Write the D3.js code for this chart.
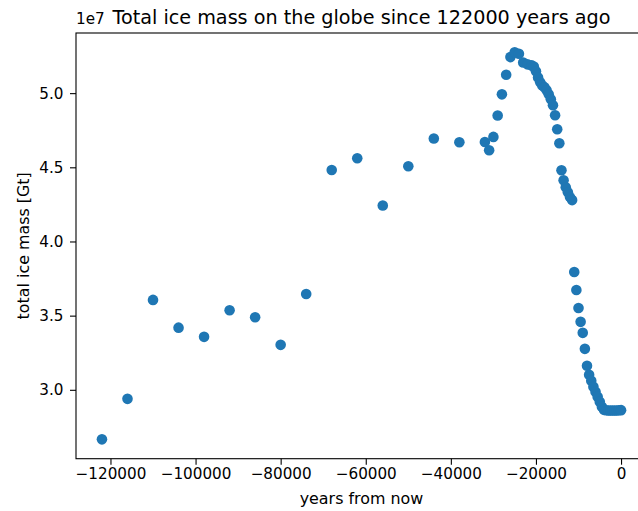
<!DOCTYPE html>
<html>
<head>
<meta charset="utf-8">
<script src="https://cdn.jsdelivr.net/npm/d3@7"></script>
<style>
  body { margin: 0; background: #fff; }
  text { font-family: "DejaVu Sans", sans-serif; }
</style>
</head>
<body>
<svg id="chart" width="638" height="511"></svg>
<script>
// years before present (negative = past)
var years = [
    -122000, -116000, -110000, -104000, -98000, -92000, -86000, -80000,
    -74000, -68000, -62000, -56000, -50000, -44000, -38000, -32000,
    -31000, -30000, -29000, -28000, -27000, -26000, -25000, -24000,
    -23000, -22000, -21000, -20500, -20000, -19500, -19000, -18500,
    -18000, -17500, -17000, -16500, -16000, -15500, -15000, -14500,
    -14000, -13500, -13000, -12500, -12000, -11500, -11000, -10500,
    -10000, -9500, -9000, -8500, -8000, -7500, -7000, -6500,
    -6000, -5500, -5000, -4500, -4000, -3500, -3000, -2500,
    -2000, -1500, -1000, -500, 0
];

// total ice mass, in units of 1e7 Gt
var iceMass = [
    2.666, 2.939, 3.606, 3.419, 3.357, 3.536, 3.489, 3.303,
    3.646, 4.482, 4.561, 4.243, 4.507, 4.694, 4.669, 4.671,
    4.615, 4.705, 4.849, 4.992, 5.124, 5.243, 5.275, 5.266,
    5.207, 5.194, 5.187, 5.180, 5.147, 5.106, 5.073, 5.052,
    5.039, 5.019, 4.992, 4.958, 4.918, 4.851, 4.757, 4.662,
    4.480, 4.413, 4.366, 4.332, 4.299, 4.279, 3.794, 3.673,
    3.552, 3.458, 3.384, 3.276, 3.162, 3.101, 3.061, 3.020,
    2.987, 2.953, 2.919, 2.886, 2.865, 2.862, 2.861, 2.860,
    2.860, 2.860, 2.861, 2.862, 2.863
];

var xTicks = [-120000, -100000, -80000, -60000, -40000, -20000, 0];
var yTicks = [3.0, 3.5, 4.0, 4.5, 5.0];

var titleText = "Total ice mass on the globe since 122000 years ago";
var xLabel = "years from now";
var yLabel = "total ice mass [Gt]";

var svg = d3.select("#chart");
var marginLeft = 76, marginTop = 33, plotW = 571, plotH = 425.7;
var tickLen = 6, tickPad = 6.5;
var tickFont = "15.2px", labelFont = "15.9px", titleFont = "19.2px";

function padded(ext) {
    var r = ext[1] - ext[0];
    return [ext[0] - 0.05 * r, ext[1] + 0.05 * r];
}

var x = d3.scaleLinear()
    .domain(padded(d3.extent(years)))
    .range([0, plotW]);

var y = d3.scaleLinear()
    .domain(padded(d3.extent(iceMass)))
    .range([plotH, 0]);

var g = svg.append("g")
    .attr("transform", "translate(" + marginLeft + "," + marginTop + ")");

// points
g.append("g").selectAll("circle")
    .data(years.map(function(d, i) { return [d, iceMass[i]]; }))
    .enter().append("circle")
    .attr("cx", function(d) { return x(d[0]); })
    .attr("cy", function(d) { return y(d[1]); })
    .attr("r", 5.3)
    .attr("fill", "#1f77b4");

// axes
var xAxis = g.append("g")
    .attr("transform", "translate(0," + plotH + ")")
    .call(d3.axisBottom(x).tickValues(xTicks).tickFormat(d3.format("d"))
        .tickSize(tickLen).tickPadding(3.5).tickSizeOuter(0));

var yAxis = g.append("g")
    .call(d3.axisLeft(y).tickValues(yTicks).tickFormat(d3.format(".1f"))
        .tickSize(tickLen).tickPadding(tickPad).tickSizeOuter(0));

[xAxis, yAxis].forEach(function(a) {
    a.select(".domain").remove();
    a.selectAll("line").attr("stroke", "#000").attr("stroke-width", 1.1);
    a.selectAll("text").attr("fill", "#000").style("font-size", tickFont)
        .style("font-family", "'DejaVu Sans', sans-serif");
});

// spines
g.append("rect")
    .attr("x", 0).attr("y", 0)
    .attr("width", plotW).attr("height", plotH)
    .attr("fill", "none")
    .attr("stroke", "#000")
    .attr("stroke-width", 1.1);

// offset text
g.append("text")
    .attr("x", 0).attr("y", -9)
    .style("font-size", tickFont)
    .text("1e7");

// title
svg.append("text")
    .attr("x", marginLeft + plotW / 2).attr("y", marginTop - 9)
    .attr("text-anchor", "middle")
    .style("font-size", titleFont)
    .text(titleText);

svg.append("text")
    .attr("x", marginLeft + plotW / 2).attr("y", 504)
    .attr("text-anchor", "middle")
    .style("font-size", labelFont)
    .text(xLabel);

svg.append("text")
    .attr("transform", "translate(29," + (marginTop + plotH / 2) + ") rotate(-90)")
    .attr("text-anchor", "middle")
    .style("font-size", labelFont)
    .text(yLabel);
</script>
</body>
</html>
